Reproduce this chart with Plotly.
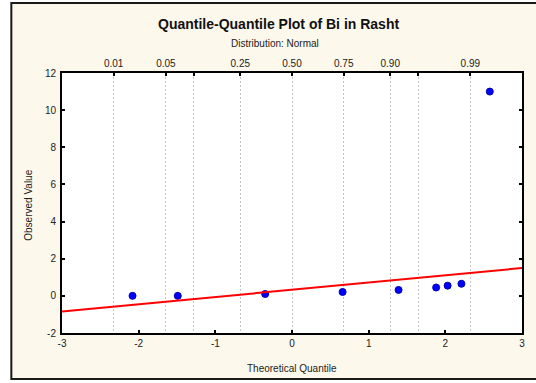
import plotly.graph_objects as go
from statistics import NormalDist

# ---- data ----
theo_q = [-2.08, -1.49, -0.35, 0.66, 1.39, 1.88, 2.03, 2.21, 2.58]
obs_val = [0.0, 0.0, 0.1, 0.21, 0.32, 0.45, 0.55, 0.65, 11.0]
fit_x = [-3, 3]
fit_y = [-0.84, 1.50]
probs = [0.01, 0.05, 0.10, 0.25, 0.50, 0.75, 0.90, 0.95, 0.99]
prob_labels = ["0.01", "0.05", "", "0.25", "0.50", "0.75", "0.90", "", "0.99"]
x_ticks = [-3, -2, -1, 0, 1, 2, 3]
y_ticks = [-2, 0, 2, 4, 6, 8, 10, 12]

nd = NormalDist()
prob_z = [nd.inv_cdf(p) for p in probs]

FONT = "Liberation Sans, Arial, sans-serif"
TXT = "#222222"
W, H = 536, 383
L, R, T, B = 62, 11, 73, 50
pw, ph = W - L - R, H - T - B

def px(xp):
    return (xp - L) / pw

def py(yp):
    return (H - B - yp) / ph

fig = go.Figure()

fig.add_trace(go.Scatter(
    x=theo_q, y=obs_val, mode="markers",
    marker=dict(color="#0000FF", size=7, line=dict(color="#0000B0", width=1)),
    showlegend=False, hoverinfo="x+y"))

fig.add_trace(go.Scatter(
    x=fit_x, y=fit_y, mode="lines",
    line=dict(color="#FF0000", width=2),
    showlegend=False, hoverinfo="skip"))

# invisible trace to activate top probability axis
fig.add_trace(go.Scatter(
    x=[prob_z[0], prob_z[-1]], y=[0, 0], xaxis="x2", mode="markers",
    marker=dict(opacity=0), showlegend=False, hoverinfo="skip"))

fig.update_layout(
    width=W, height=H, autosize=False,
    margin=dict(l=L, r=R, t=T, b=B, pad=0),
    paper_bgcolor="white", plot_bgcolor="white",
    font=dict(family=FONT, size=10, color=TXT),
    xaxis=dict(range=[-3, 3], tickmode="array", tickvals=x_ticks,
               ticktext=[str(v) for v in x_ticks],
               ticks="inside", ticklen=3, tickwidth=2, tickcolor="black",
               showline=True, linewidth=2, linecolor="black", mirror=False,
               showgrid=False, zeroline=False, fixedrange=True),
    xaxis2=dict(range=[-3, 3], overlaying="x", side="top", anchor="y",
                tickmode="array", tickvals=prob_z, ticktext=prob_labels,
                ticks="inside", ticklen=3, tickwidth=2, tickcolor="black",
                showline=True, linewidth=2, linecolor="black",
                showgrid=True, gridcolor="#C4C4C4", gridwidth=1, griddash="2px,2px",
                zeroline=False, fixedrange=True),
    yaxis=dict(range=[-2, 12], tickmode="array", tickvals=y_ticks,
               ticktext=[str(v) for v in y_ticks],
               ticks="inside", ticklen=3, tickwidth=2, tickcolor="black",
               ticklabelstandoff=2,
               showline=True, linewidth=2, linecolor="black", mirror="ticks",
               showgrid=False, zeroline=False, fixedrange=True),
    shapes=[
        dict(type="rect", xref="paper", yref="paper",
             x0=px(11), x1=px(545), y0=py(379), y1=py(3),
             fillcolor="#FDF8EC", line=dict(color="#1a1a1a", width=2), layer="below"),
        dict(type="rect", xref="paper", yref="paper",
             x0=0, x1=1, y0=0, y1=1,
             fillcolor="white", line=dict(width=0), layer="below"),
    ],
    annotations=[
        dict(text="<b>Quantile-Quantile Plot of Bi in Rasht</b>", xref="paper", yref="paper",
             x=px(280), y=py(24), xanchor="center", yanchor="middle", showarrow=False,
             font=dict(family=FONT, size=14, color="#111111")),
        dict(text="Distribution: Normal", xref="paper", yref="paper",
             x=px(276), y=py(43.5), xanchor="center", yanchor="middle", showarrow=False,
             font=dict(family=FONT, size=10, color=TXT)),
        dict(text="Theoretical Quantile", xref="paper", yref="paper",
             x=0.5, y=py(368.6), xanchor="center", yanchor="middle", showarrow=False,
             font=dict(family=FONT, size=10, color=TXT)),
        dict(text="Observed Value", xref="paper", yref="paper",
             x=px(27.5), y=py(205), xanchor="center", yanchor="middle", showarrow=False,
             textangle=-90, font=dict(family=FONT, size=10, color=TXT)),
    ],
)

fig.write_html("out.html", config={"displayModeBar": False},
               post_script="document.body.style.margin='0px';document.body.style.overflow='hidden';")
